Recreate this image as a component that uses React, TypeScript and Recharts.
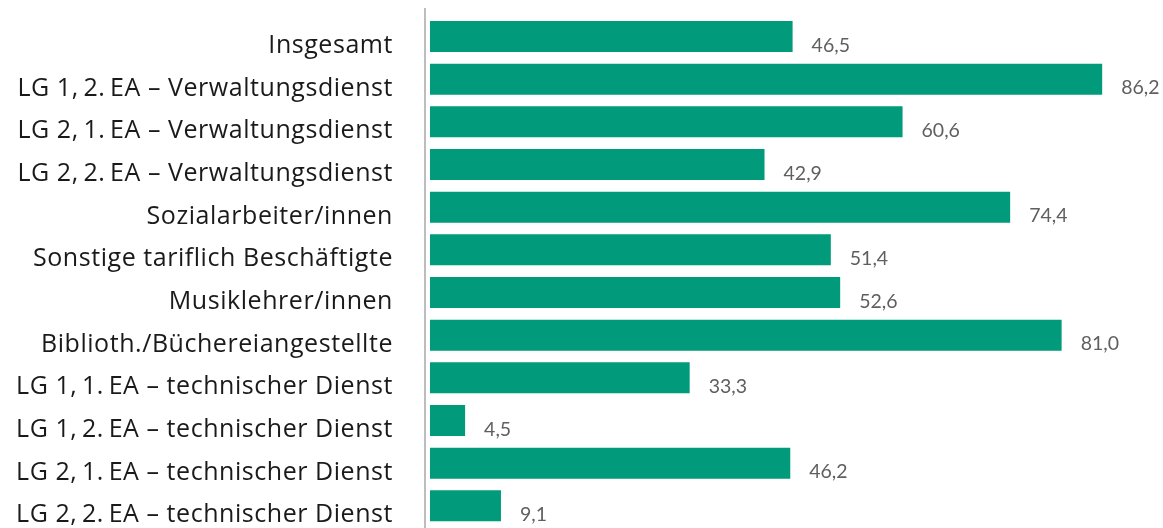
import { Bar, BarChart, LabelList, XAxis, YAxis } from "recharts";

const categories = [
  "Insgesamt",
  "LG 1,\u20092.\u2009EA – Verwaltungsdienst",
  "LG 2,\u20091.\u2009EA – Verwaltungsdienst",
  "LG 2,\u20092.\u2009EA – Verwaltungsdienst",
  "Sozialarbeiter/innen",
  "Sonstige tariflich Beschäftigte",
  "Musiklehrer/innen",
  "Biblioth./Büchereiangestellte",
  "LG 1,\u20091.\u2009EA – technischer Dienst",
  "LG 1,\u20092.\u2009EA – technischer Dienst",
  "LG 2,\u20091.\u2009EA – technischer Dienst",
  "LG 2,\u20092.\u2009EA – technischer Dienst",
];

const values = [46.5, 86.2, 60.6, 42.9, 74.4, 51.4, 52.6, 81.0, 33.3, 4.5, 46.2, 9.1];

const data = categories.map((name, i) => ({ name, value: values[i] }));

const fmt = (v: number) => v.toFixed(1).replace(".", ",");

function ValueLabel(props: any) {
  const { x, y, width, height, value } = props;
  return (
    <text
      x={x + width + 19}
      y={y + height / 2 + 15}
      fill="#5f5f5f"
      fontSize={19.5}
      fontFamily="Lato, sans-serif"
    >
      {fmt(value)}
    </text>
  );
}

function CategoryTick(props: any) {
  const { x, y, payload } = props;
  return (
    <text
      x={x}
      y={y + 16.5}
      textAnchor="end"
      fill="#1a1a1a"
      fontSize={25}
      letterSpacing={0.55}
      fontFamily="'Open Sans', sans-serif"
    >
      {payload.value}
    </text>
  );
}

export default function App() {
  // fixed so the page never gets scrollbars
  return (
    <div style={{ position: "fixed", left: 0, top: 0, width: 1163, height: 528 }}>
      <BarChart
        width={1163}
        height={528}
        data={data}
        layout="vertical"
        margin={{ top: 8, right: 0, bottom: 0, left: 8 }}
        barSize={31}
      >
        <XAxis type="number" domain={[0, 94]} hide padding={{ left: 5, right: 0 }} />
        <YAxis
          type="category"
          dataKey="name"
          width={417}
          axisLine={{ stroke: "#bdbdbd", strokeWidth: 2 }}
          tickLine={false}
          tickSize={0}
          tickMargin={32}
          padding={{ top: 7, bottom: 1 }}
          interval={0}
          tick={<CategoryTick />}
        />
        <Bar dataKey="value" fill="#019a7a" isAnimationActive={false}>
          <LabelList dataKey="value" content={<ValueLabel />} />
        </Bar>
      </BarChart>
    </div>
  );
}
